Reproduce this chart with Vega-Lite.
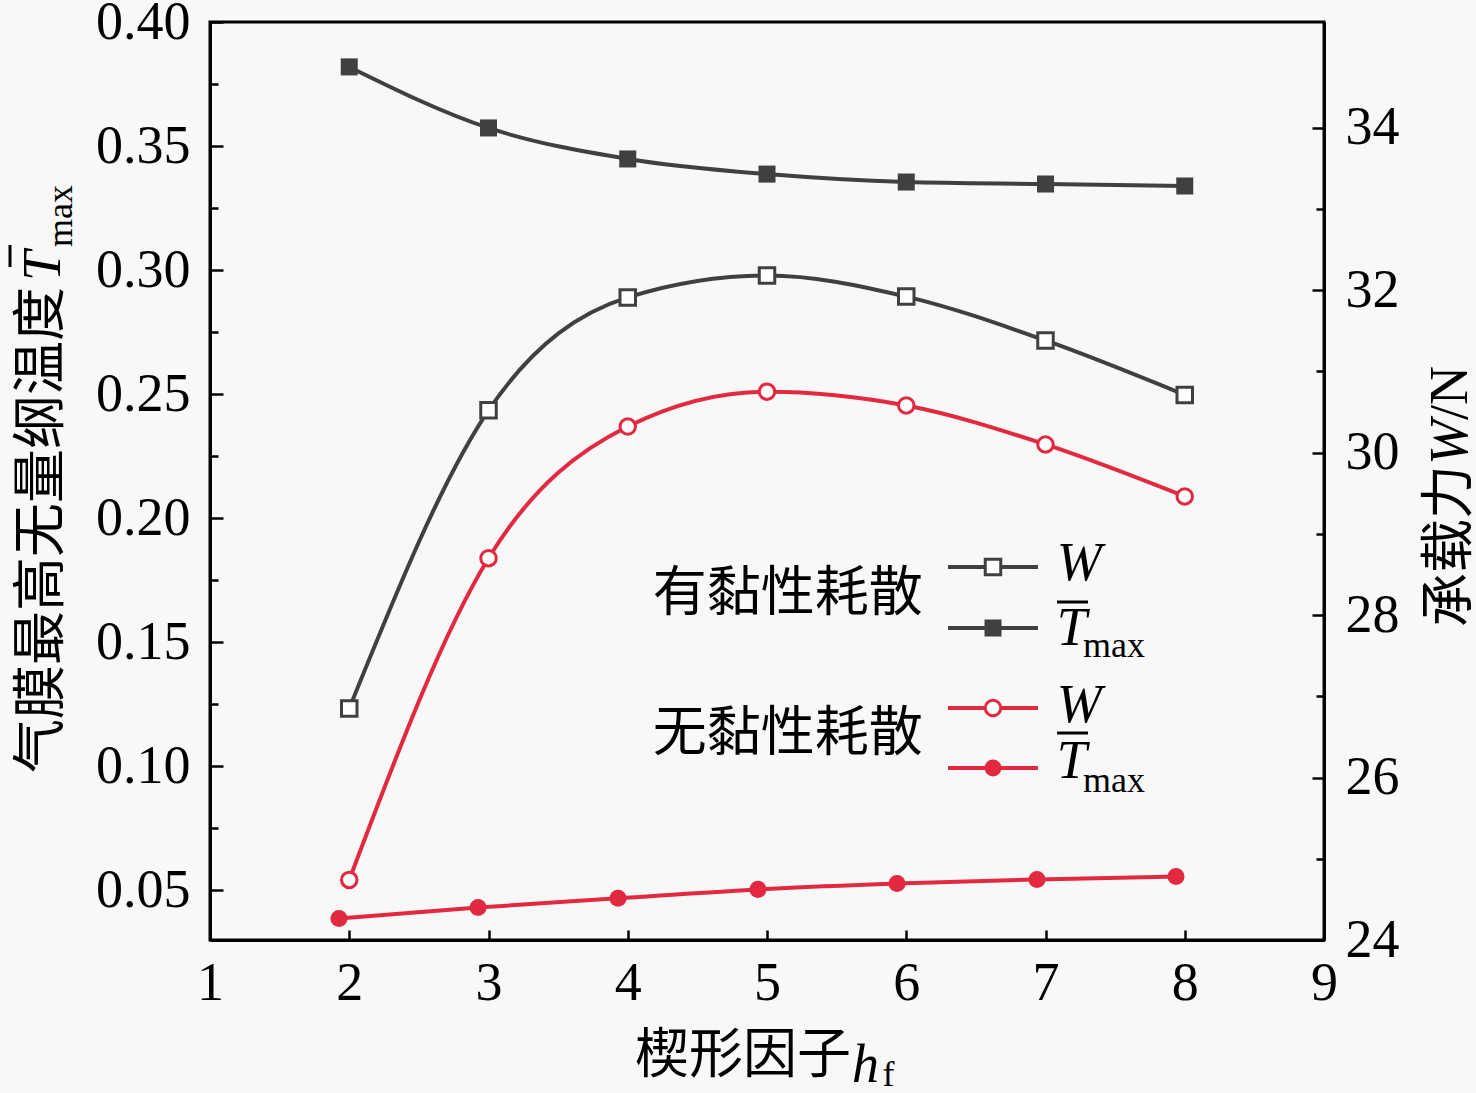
{
  "$schema": "https://vega.github.io/schema/vega-lite/v6.json",
  "width": 1114,
  "height": 918,
  "autosize": {"type": "none"},
  "padding": {"left": 210, "top": 22, "right": 152, "bottom": 153},
  "background": "#f8f8f8",
  "config": {
    "view": {"stroke": "#000000", "strokeWidth": 3},
    "font": "Liberation Serif",
    "axis": {
      "labelFont": "Liberation Serif",
      "labelFontSize": 54,
      "labelColor": "#000000",
      "domainColor": "#000000",
      "domainWidth": 3,
      "tickColor": "#000000",
      "tickWidth": 2.5,
      "grid": false,
      "labelOverlap": false,
      "labelFlush": false
    }
  },
  "datasets": {
    "tmax": [
      {"hf": 2, "t": 0.3819, "case": "有黏性耗散"},
      {"hf": 3, "t": 0.3573, "case": "有黏性耗散"},
      {"hf": 4, "t": 0.3448, "case": "有黏性耗散"},
      {"hf": 5, "t": 0.3387, "case": "有黏性耗散"},
      {"hf": 6, "t": 0.3355, "case": "有黏性耗散"},
      {"hf": 7, "t": 0.3347, "case": "有黏性耗散"},
      {"hf": 8, "t": 0.3339, "case": "有黏性耗散"},
      {"hf": 1.926, "t": 0.0387, "case": "无黏性耗散"},
      {"hf": 2.925, "t": 0.0431, "case": "无黏性耗散"},
      {"hf": 3.93, "t": 0.0468, "case": "无黏性耗散"},
      {"hf": 4.935, "t": 0.0504, "case": "无黏性耗散"},
      {"hf": 5.934, "t": 0.0528, "case": "无黏性耗散"},
      {"hf": 6.939, "t": 0.0544, "case": "无黏性耗散"},
      {"hf": 7.937, "t": 0.0556, "case": "无黏性耗散"}
    ],
    "w": [
      {"hf": 2, "w": 26.85, "case": "有黏性耗散"},
      {"hf": 3, "w": 30.52, "case": "有黏性耗散"},
      {"hf": 4, "w": 31.91, "case": "有黏性耗散"},
      {"hf": 5, "w": 32.18, "case": "有黏性耗散"},
      {"hf": 6, "w": 31.92, "case": "有黏性耗散"},
      {"hf": 7, "w": 31.38, "case": "有黏性耗散"},
      {"hf": 8, "w": 30.71, "case": "有黏性耗散"},
      {"hf": 2, "w": 24.74, "case": "无黏性耗散"},
      {"hf": 3, "w": 28.7, "case": "无黏性耗散"},
      {"hf": 4, "w": 30.32, "case": "无黏性耗散"},
      {"hf": 5, "w": 30.75, "case": "无黏性耗散"},
      {"hf": 6, "w": 30.58, "case": "无黏性耗散"},
      {"hf": 7, "w": 30.1, "case": "无黏性耗散"},
      {"hf": 8, "w": 29.46, "case": "无黏性耗散"}
    ],
    "legendkeys": [
      {"case": "有黏性耗散", "kind": "W", "ky": 0.18034, "lx1": 6.3, "lx2": 6.946, "mx": 6.623},
      {"case": "有黏性耗散", "kind": "T", "ky": 0.15575, "lx1": 6.3, "lx2": 6.946, "mx": 6.623},
      {"case": "无黏性耗散", "kind": "W", "ky": 0.12351, "lx1": 6.3, "lx2": 6.946, "mx": 6.623},
      {"case": "无黏性耗散", "kind": "T", "ky": 0.09932, "lx1": 6.3, "lx2": 6.946, "mx": 6.623}
    ],
    "notes": [
      {"role": "cjk", "txt": "有黏性耗散", "nx": 4.18, "ny": 0.169},
      {"role": "cjk", "txt": "无黏性耗散", "nx": 4.18, "ny": 0.1126},
      {"role": "cjk", "txt": "楔形因子", "nx": 4.052, "ny": -0.0172},
      {"role": "sym", "txt": "W", "nx": 7.08, "ny": 0.1751},
      {"role": "sym", "txt": "T", "nx": 7.08, "ny": 0.1489},
      {"role": "sym", "txt": "W", "nx": 7.08, "ny": 0.1179},
      {"role": "sym", "txt": "T", "nx": 7.08, "ny": 0.0953},
      {"role": "sym", "txt": "h", "nx": 5.61, "ny": -0.0272},
      {"role": "sub", "txt": "max", "nx": 7.27, "ny": 0.1441},
      {"role": "sub", "txt": "max", "nx": 7.27, "ny": 0.0897},
      {"role": "sub", "txt": "f", "nx": 5.83, "ny": -0.0289},
      {"role": "rcjk", "txt": "气膜最高无量纲温度", "nx": -0.0844, "ny": 0.0973},
      {"role": "rcjk", "txt": "承载力", "nx": 10.03, "ny": 0.1562},
      {"role": "rsym", "txt": "T", "nx": -0.0772, "ny": 0.2956},
      {"role": "rsym", "txt": "W", "nx": 10.03, "ny": 0.2215},
      {"role": "rsub", "txt": "max", "nx": 0.009, "ny": 0.3093},
      {"role": "rreg", "txt": "/N", "nx": 10.03, "ny": 0.2396}
    ],
    "hbars": [
      {"bx": 7.083, "bx2": 7.305, "by": 0.16623},
      {"bx": 7.083, "bx2": 7.305, "by": 0.11343}
    ],
    "vbars": [
      {"bx": -0.4363, "by": 0.30125, "by2": 0.31012}
    ]
  },
  "layer": [
    {
      "data": {"name": "tmax"},
      "mark": {"type": "line", "interpolate": "monotone", "strokeWidth": 4},
      "encoding": {
        "x": {
          "field": "hf",
          "type": "quantitative",
          "scale": {"domain": [1, 9], "nice": false, "zero": false},
          "axis": {
            "orient": "bottom",
            "values": [1, 2, 3, 4, 5, 6, 7, 8, 9],
            "format": "d",
            "tickSize": -10,
            "labelPadding": 26,
            "title": null
          }
        },
        "y": {
          "field": "t",
          "type": "quantitative",
          "scale": {"domain": [0.03, 0.4], "nice": false, "zero": false},
          "axis": {
            "orient": "left",
            "values": [0.05, 0.075, 0.1, 0.125, 0.15, 0.175, 0.2, 0.225, 0.25, 0.275, 0.3, 0.325, 0.35, 0.375, 0.4],
            "tickSize": -13,
            "labelPadding": 33,
            "labelExpr": "abs(datum.value * 20 - round(datum.value * 20)) < 0.01 ? format(datum.value, '.2f') : ''",
            "tickDash": {
              "condition": {"test": "abs(datum.value * 20 - round(datum.value * 20)) < 0.01", "value": [20, 0]},
              "value": [8, 40]
            },
            "title": null
          }
        },
        "color": {
          "field": "case",
          "type": "nominal",
          "scale": {"domain": ["有黏性耗散", "无黏性耗散"], "range": ["#404040", "#e2293f"]},
          "legend": null
        }
      }
    },
    {
      "data": {"name": "tmax"},
      "mark": {"type": "point", "filled": true, "size": 290, "opacity": 1},
      "encoding": {
        "x": {"field": "hf", "type": "quantitative", "scale": {"domain": [1, 9], "nice": false, "zero": false}, "axis": null},
        "y": {"field": "t", "type": "quantitative", "scale": {"domain": [0.03, 0.4], "nice": false, "zero": false}, "axis": null},
        "color": {"field": "case", "type": "nominal", "legend": null},
        "shape": {
          "field": "case",
          "type": "nominal",
          "scale": {"domain": ["有黏性耗散", "无黏性耗散"], "range": ["square", "circle"]},
          "legend": null
        }
      }
    },
    {
      "data": {"name": "w"},
      "mark": {"type": "line", "interpolate": "monotone", "strokeWidth": 4},
      "encoding": {
        "x": {"field": "hf", "type": "quantitative", "scale": {"domain": [1, 9], "nice": false, "zero": false}, "axis": null},
        "y": {
          "field": "w",
          "type": "quantitative",
          "scale": {"domain": [24, 35.3], "nice": false, "zero": false},
          "axis": {
            "orient": "right",
            "values": [24, 25, 26, 27, 28, 29, 30, 31, 32, 33, 34],
            "tickSize": -12,
            "labelPadding": 33,
            "labelExpr": "datum.value % 2 == 0 ? datum.label : ''",
            "tickDash": {
              "condition": {"test": "datum.value % 2 == 0", "value": [20, 0]},
              "value": [8, 40]
            },
            "title": null
          }
        },
        "color": {"field": "case", "type": "nominal", "legend": null}
      }
    },
    {
      "data": {"name": "w"},
      "mark": {"type": "point", "filled": false, "fill": "#ffffff", "strokeWidth": 3, "size": 240, "opacity": 1},
      "encoding": {
        "x": {"field": "hf", "type": "quantitative", "scale": {"domain": [1, 9], "nice": false, "zero": false}, "axis": null},
        "y": {"field": "w", "type": "quantitative", "scale": {"domain": [24, 35.3], "nice": false, "zero": false}, "axis": null},
        "color": {"field": "case", "type": "nominal", "legend": null},
        "shape": {"field": "case", "type": "nominal", "legend": null}
      }
    },
    {
      "data": {"name": "legendkeys"},
      "mark": {"type": "rule", "strokeWidth": 4},
      "encoding": {
        "x": {"field": "lx1", "type": "quantitative", "scale": {"domain": [1, 9], "nice": false, "zero": false}, "axis": null},
        "x2": {"field": "lx2"},
        "y": {"field": "ky", "type": "quantitative", "scale": {"domain": [0.03, 0.4], "nice": false, "zero": false}, "axis": null},
        "color": {"field": "case", "type": "nominal", "legend": null}
      }
    },
    {
      "data": {"name": "legendkeys"},
      "transform": [{"filter": "datum.kind === 'W'"}],
      "mark": {"type": "point", "filled": false, "fill": "#ffffff", "strokeWidth": 3, "size": 240, "opacity": 1},
      "encoding": {
        "x": {"field": "mx", "type": "quantitative", "scale": {"domain": [1, 9], "nice": false, "zero": false}, "axis": null},
        "y": {"field": "ky", "type": "quantitative", "scale": {"domain": [0.03, 0.4], "nice": false, "zero": false}, "axis": null},
        "color": {"field": "case", "type": "nominal", "legend": null},
        "shape": {"field": "case", "type": "nominal", "legend": null}
      }
    },
    {
      "data": {"name": "legendkeys"},
      "transform": [{"filter": "datum.kind === 'T'"}],
      "mark": {"type": "point", "filled": true, "size": 290, "opacity": 1},
      "encoding": {
        "x": {"field": "mx", "type": "quantitative", "scale": {"domain": [1, 9], "nice": false, "zero": false}, "axis": null},
        "y": {"field": "ky", "type": "quantitative", "scale": {"domain": [0.03, 0.4], "nice": false, "zero": false}, "axis": null},
        "color": {"field": "case", "type": "nominal", "legend": null},
        "shape": {"field": "case", "type": "nominal", "legend": null}
      }
    },
    {
      "data": {"name": "notes"},
      "transform": [{"filter": "datum.role === 'cjk'"}],
      "mark": {"type": "text", "font": "Noto Sans CJK SC", "fontSize": 54, "align": "left", "baseline": "middle", "color": "#000000"},
      "encoding": {
        "x": {"field": "nx", "type": "quantitative", "scale": {"domain": [1, 9], "nice": false, "zero": false}, "axis": null},
        "y": {"field": "ny", "type": "quantitative", "scale": {"domain": [0.03, 0.4], "nice": false, "zero": false}, "axis": null},
        "text": {"field": "txt"}
      }
    },
    {
      "data": {"name": "notes"},
      "transform": [{"filter": "datum.role === 'sym'"}],
      "mark": {"type": "text", "font": "Liberation Serif", "fontStyle": "italic", "fontSize": 54, "align": "left", "baseline": "alphabetic", "color": "#000000"},
      "encoding": {
        "x": {"field": "nx", "type": "quantitative", "scale": {"domain": [1, 9], "nice": false, "zero": false}, "axis": null},
        "y": {"field": "ny", "type": "quantitative", "scale": {"domain": [0.03, 0.4], "nice": false, "zero": false}, "axis": null},
        "text": {"field": "txt"}
      }
    },
    {
      "data": {"name": "notes"},
      "transform": [{"filter": "datum.role === 'sub'"}],
      "mark": {"type": "text", "font": "Liberation Serif", "fontSize": 36, "align": "left", "baseline": "alphabetic", "color": "#000000"},
      "encoding": {
        "x": {"field": "nx", "type": "quantitative", "scale": {"domain": [1, 9], "nice": false, "zero": false}, "axis": null},
        "y": {"field": "ny", "type": "quantitative", "scale": {"domain": [0.03, 0.4], "nice": false, "zero": false}, "axis": null},
        "text": {"field": "txt"}
      }
    },
    {
      "data": {"name": "notes"},
      "transform": [{"filter": "datum.role === 'rcjk'"}],
      "mark": {"type": "text", "font": "Noto Sans CJK SC", "fontSize": 54, "angle": 270, "align": "left", "baseline": "alphabetic", "color": "#000000"},
      "encoding": {
        "x": {"field": "nx", "type": "quantitative", "scale": {"domain": [1, 9], "nice": false, "zero": false}, "axis": null},
        "y": {"field": "ny", "type": "quantitative", "scale": {"domain": [0.03, 0.4], "nice": false, "zero": false}, "axis": null},
        "text": {"field": "txt"}
      }
    },
    {
      "data": {"name": "notes"},
      "transform": [{"filter": "datum.role === 'rsym'"}],
      "mark": {"type": "text", "font": "Liberation Serif", "fontStyle": "italic", "fontSize": 54, "angle": 270, "align": "left", "baseline": "alphabetic", "color": "#000000"},
      "encoding": {
        "x": {"field": "nx", "type": "quantitative", "scale": {"domain": [1, 9], "nice": false, "zero": false}, "axis": null},
        "y": {"field": "ny", "type": "quantitative", "scale": {"domain": [0.03, 0.4], "nice": false, "zero": false}, "axis": null},
        "text": {"field": "txt"}
      }
    },
    {
      "data": {"name": "notes"},
      "transform": [{"filter": "datum.role === 'rsub'"}],
      "mark": {"type": "text", "font": "Liberation Serif", "fontSize": 36, "angle": 270, "align": "left", "baseline": "alphabetic", "color": "#000000"},
      "encoding": {
        "x": {"field": "nx", "type": "quantitative", "scale": {"domain": [1, 9], "nice": false, "zero": false}, "axis": null},
        "y": {"field": "ny", "type": "quantitative", "scale": {"domain": [0.03, 0.4], "nice": false, "zero": false}, "axis": null},
        "text": {"field": "txt"}
      }
    },
    {
      "data": {"name": "notes"},
      "transform": [{"filter": "datum.role === 'rreg'"}],
      "mark": {"type": "text", "font": "Liberation Serif", "fontSize": 54, "angle": 270, "align": "left", "baseline": "alphabetic", "color": "#000000"},
      "encoding": {
        "x": {"field": "nx", "type": "quantitative", "scale": {"domain": [1, 9], "nice": false, "zero": false}, "axis": null},
        "y": {"field": "ny", "type": "quantitative", "scale": {"domain": [0.03, 0.4], "nice": false, "zero": false}, "axis": null},
        "text": {"field": "txt"}
      }
    },
    {
      "data": {"name": "hbars"},
      "mark": {"type": "rule", "strokeWidth": 3, "color": "#000000"},
      "encoding": {
        "x": {"field": "bx", "type": "quantitative", "scale": {"domain": [1, 9], "nice": false, "zero": false}, "axis": null},
        "x2": {"field": "bx2"},
        "y": {"field": "by", "type": "quantitative", "scale": {"domain": [0.03, 0.4], "nice": false, "zero": false}, "axis": null}
      }
    },
    {
      "data": {"name": "vbars"},
      "mark": {"type": "rule", "strokeWidth": 3, "color": "#000000"},
      "encoding": {
        "x": {"field": "bx", "type": "quantitative", "scale": {"domain": [1, 9], "nice": false, "zero": false}, "axis": null},
        "y": {"field": "by", "type": "quantitative", "scale": {"domain": [0.03, 0.4], "nice": false, "zero": false}, "axis": null},
        "y2": {"field": "by2"}
      }
    }
  ],
  "resolve": {"scale": {"y": "independent"}, "axis": {"x": "independent", "y": "independent"}}
}
